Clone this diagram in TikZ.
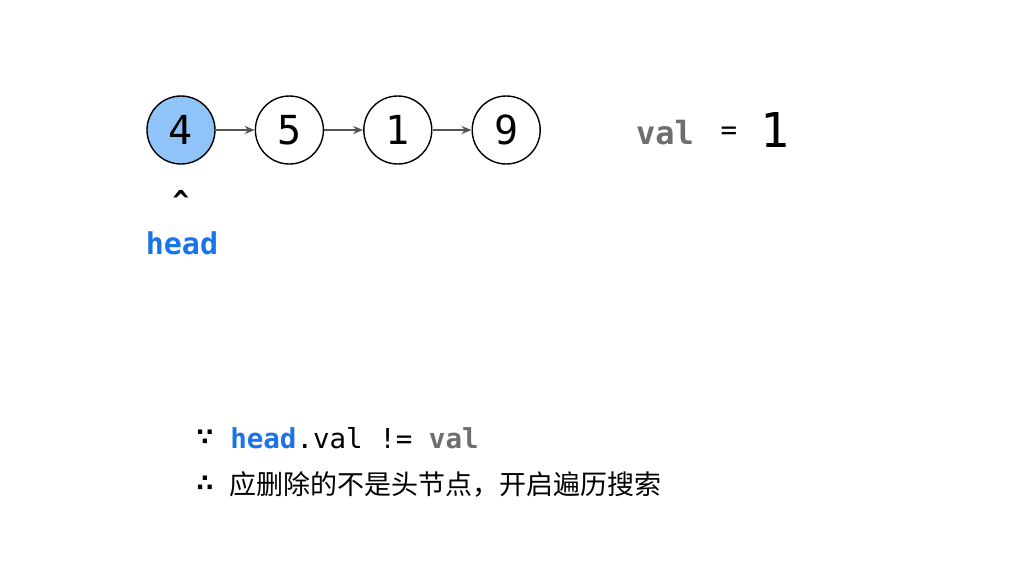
\documentclass[tikz,border=0pt]{standalone}
\usepackage{fontspec}
\setmonofont{DejaVu Sans Mono}
\newfontfamily\cjk{Noto Sans CJK SC}
\newfontfamily\symb{DejaVu Sans}
\usetikzlibrary{arrows.meta, positioning}

\definecolor{headblue}{HTML}{1A73E8}
\definecolor{nodeblue}{HTML}{90C4F9}
\definecolor{valgrey}{HTML}{6E6E6E}
\definecolor{arrowgrey}{HTML}{555555}

\begin{document}
\begin{tikzpicture}[
            x = 1pt, y = -1pt, % pixel-like units, y downwards
            > = {Stealth[length=10pt, width=8pt]}, % arrow head style
            node distance = 39pt, % gap between list nodes
            semithick % line style
        ]

        \tikzstyle{listnode}=[
            circle,
            draw = black,
            line width = 1.4pt,
            fill = white,
            minimum size = 68pt,
            inner sep = 0pt,
            font = \ttfamily\fontsize{40}{48}\selectfont
        ]
        \tikzstyle{code}=[
            inner sep = 0pt,
            font = \ttfamily\fontsize{27.5}{33}\selectfont
        ]

        \useasboundingbox (0,0) rectangle (1014,574);

        % the list
        \node[listnode, fill = nodeblue] (n4) at (181,130) {4};
        \node[listnode] (n5) [right=of n4] {5};
        \node[listnode] (n1) [right=of n5] {1};
        \node[listnode] (n9) [right=of n1] {9};

        \path[->, draw = arrowgrey, line width = 1.6pt] (n4) edge node {} (n5);
        \path[->, draw = arrowgrey, line width = 1.6pt] (n5) edge node {} (n1);
        \path[->, draw = arrowgrey, line width = 1.6pt] (n1) edge node {} (n9);

        % pointer to the head
        \node[code, font = \ttfamily\bfseries\fontsize{27.5}{33}\selectfont] (caret) at (181,200) {\^{}};
        \node[code, text = headblue, font = \ttfamily\bfseries\fontsize{30}{36}\selectfont] (head) at (182,243) {head};

        % value to delete
        \node[code, text = valgrey, font = \ttfamily\bfseries\fontsize{32}{38}\selectfont] (valname) at (665,133) {val};
        \node[code] (eqsign) at (729,133) {=};
        \node[code, font = \ttfamily\fontsize{48}{56}\selectfont] (valnum) at (775,130) {1};

        % reasoning
        \node[code, font = \symb\bfseries\fontsize{24}{30}\selectfont] (because) at (205,438) {∵};
        \node[code, anchor = west] (cond) at (230,438)
            {{\color{headblue}\bfseries head}.val != {\color{valgrey}\bfseries val}};
        \node[code, font = \symb\bfseries\fontsize{24}{30}\selectfont] (therefore) at (205,484) {∴};
        \node[code, anchor = west, font = \cjk\fontsize{27}{32}\selectfont] (result) at (229,484)
            {应删除的不是头节点，开启遍历搜索};

    \end{tikzpicture}
\end{document}
